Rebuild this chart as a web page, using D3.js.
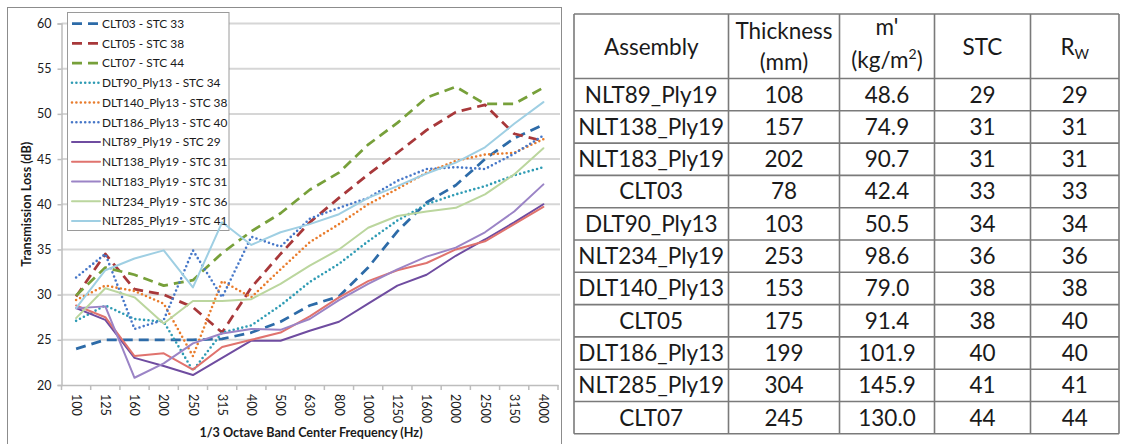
<!DOCTYPE html>
<html>
<head>
<meta charset="utf-8">
<script src="https://cdn.jsdelivr.net/npm/d3@7"></script>
<style>
  html, body { margin: 0; padding: 0; background: #fff; }
  svg { display: block; }
  text { font-family: Lato, "Open Sans", "DejaVu Sans", sans-serif; fill: #1a1a1a; }
</style>
</head>
<body>
<svg id="chart" width="1123" height="444"></svg>
<script>
// ---------------- DATA ----------------
const categories = ["100","125","160","200","250","315","400","500","630","800","1000","1250","1600","2000","2500","3150","4000"];
const yTicks = [20, 25, 30, 35, 40, 45, 50, 55, 60];

const seriesNames = [
  "CLT03 - STC 33", "CLT05 - STC 38", "CLT07 - STC 44",
  "DLT90_Ply13 - STC 34", "DLT140_Ply13 - STC 38", "DLT186_Ply13 - STC 40",
  "NLT89_Ply19 - STC 29", "NLT138_Ply19 - STC 31", "NLT183_Ply19 - STC 31",
  "NLT234_Ply19 - STC 36", "NLT285_Ply19 - STC 41"
];

const clt03  = [24.0, 25.0, 25.0, 25.0, 25.0, 25.1, 25.8, 27.0, 28.8, 29.8, 33.0, 37.0, 40.2, 42.1, 45.0, 47.3, 48.8];
const clt05  = [29.8, 34.5, 30.6, 30.0, 28.6, 25.8, 30.8, 34.5, 38.0, 40.7, 43.3, 45.7, 48.2, 50.2, 51.0, 47.8, 47.0];
const clt07  = [29.9, 33.0, 32.2, 31.0, 31.6, 34.6, 37.0, 39.0, 41.6, 43.5, 46.6, 49.0, 51.8, 53.0, 51.1, 51.1, 52.9];
const dlt90  = [27.1, 28.8, 27.3, 27.0, 21.6, 25.8, 26.6, 28.8, 31.4, 33.4, 35.9, 38.2, 40.0, 41.1, 42.0, 43.2, 44.1];
const dlt140 = [29.4, 31.0, 30.4, 29.0, 23.2, 31.5, 29.7, 32.8, 35.8, 37.8, 40.0, 41.7, 43.5, 44.8, 45.5, 45.7, 47.2];
const dlt186 = [31.9, 34.5, 26.2, 27.2, 34.9, 29.7, 36.4, 35.3, 38.4, 39.6, 40.7, 42.6, 43.9, 44.1, 43.9, 45.6, 47.6];
const nlt89  = [28.5, 27.2, 23.0, 22.1, 21.1, 23.0, 24.9, 24.9, 26.0, 27.0, 29.0, 31.0, 32.2, 34.3, 36.1, 38.0, 40.0];
const nlt138 = [28.8, 27.5, 23.2, 23.5, 21.7, 24.2, 25.0, 25.8, 27.6, 29.7, 31.5, 32.7, 33.5, 35.0, 35.9, 37.8, 39.7];
const nlt183 = [28.5, 28.7, 20.8, 22.4, 24.6, 25.7, 26.2, 26.1, 27.3, 29.4, 31.2, 32.8, 34.2, 35.2, 36.9, 39.2, 42.2];
const nlt234 = [27.4, 30.7, 29.7, 26.8, 29.3, 29.3, 29.5, 31.2, 33.2, 35.0, 37.4, 38.7, 39.2, 39.6, 41.1, 43.3, 46.2];
const nlt285 = [28.5, 32.7, 34.0, 34.9, 30.8, 38.0, 35.5, 36.9, 37.8, 38.9, 40.7, 42.0, 43.4, 44.6, 46.3, 48.9, 51.3];

const seriesValues = [clt03, clt05, clt07, dlt90, dlt140, dlt186, nlt89, nlt138, nlt183, nlt234, nlt285];

// table
const tableHeaders = ["Assembly", "Thickness", "m'", "STC", "R"];
const assemblies = ["NLT89_Ply19","NLT138_Ply19","NLT183_Ply19","CLT03","DLT90_Ply13","NLT234_Ply19","DLT140_Ply13","CLT05","DLT186_Ply13","NLT285_Ply19","CLT07"];
const thickness  = ["108","157","202","78","103","253","153","175","199","304","245"];
const massArea   = ["48.6","74.9","90.7","42.4","50.5","98.6","79.0","91.4","101.9","145.9","130.0"];
const stc        = ["29","31","31","33","34","36","38","38","40","41","44"];
const rw         = ["29","31","31","33","34","36","38","40","40","41","44"];

// ---------------- STYLES ----------------
const styles = [
  {color:"#2D6BA8", type:"dash"},
  {color:"#A8383A", type:"dash"},
  {color:"#77A03A", type:"dash"},
  {color:"#2E9BB4", type:"dot"},
  {color:"#E97C2C", type:"dot"},
  {color:"#4677C8", type:"dot"},
  {color:"#6F4CA0", type:"solid"},
  {color:"#E0736E", type:"solid"},
  {color:"#9B84C6", type:"solid"},
  {color:"#BBD69E", type:"solid"},
  {color:"#9FCFE3", type:"solid"}
];
function applyStyle(sel, st) {
  sel.attr("stroke", st.color).attr("fill", "none").attr("stroke-linejoin", "round");
  if (st.type === "dash") sel.attr("stroke-width", 2.75).attr("stroke-dasharray", "10,6").attr("stroke-linecap", "butt");
  else if (st.type === "dot") sel.attr("stroke-width", 2.6).attr("stroke-dasharray", "0,4.4").attr("stroke-linecap", "round");
  else sel.attr("stroke-width", 2).attr("stroke-linecap", "round");
}

// ---------------- CHART ----------------
const svg = d3.select("#chart");

// chart frame
svg.append("rect").attr("x", 7.5).attr("y", 7.5).attr("width", 554).attr("height", 450)
  .attr("fill", "#fff").attr("stroke", "#8c8c8c").attr("stroke-width", 1);

const plot = {left: 61.5, right: 558, top: 23.5, bottom: 385};
const x = d3.scaleBand().domain(categories).range([plot.left, plot.right]).paddingInner(0).paddingOuter(0);
const xc = c => x(c) + x.bandwidth() / 2;
const y = d3.scaleLinear().domain([20, 60]).range([plot.bottom, plot.top]);

// gridlines
svg.append("g").selectAll("line").data(yTicks.filter(t => t > 20)).join("line")
  .attr("x1", plot.left).attr("x2", plot.right + 2)
  .attr("y1", d => y(d)).attr("y2", d => y(d))
  .attr("stroke", "#d6d6d6").attr("stroke-width", 2);

// y axis
const yAxis = d3.axisLeft(y).tickValues(yTicks).tickSize(4).tickPadding(6).tickFormat(d3.format("d"));
const gy = svg.append("g").attr("transform", `translate(${plot.left},0)`).call(yAxis);
gy.select(".domain").attr("stroke", "#bdbdbd").attr("stroke-width", 1.5);
gy.selectAll(".tick line").attr("stroke", "#bdbdbd").attr("stroke-width", 1.5);
gy.selectAll(".tick text").attr("font-size", 12.5).attr("fill", "#262626")
  .style("font-family", "Lato, sans-serif");

// x axis
const xAxis = d3.axisBottom(x).tickSize(0).tickPadding(0);
const gx = svg.append("g").attr("transform", `translate(0,${plot.bottom})`).call(xAxis);
gx.select(".domain").attr("stroke", "#bdbdbd").attr("stroke-width", 1.5);
gx.selectAll(".tick text")
  .attr("transform", "translate(0,9) rotate(90)")
  .attr("text-anchor", "start").attr("dy", "0.35em").attr("x", 0).attr("y", 0)
  .attr("font-size", 12.5).attr("fill", "#262626").style("font-family", "Lato, sans-serif");
// tick marks at category boundaries
svg.append("g").selectAll("line").data(categories.concat(["end"])).join("line")
  .attr("x1", (d, i) => plot.left + i * x.bandwidth()).attr("x2", (d, i) => plot.left + i * x.bandwidth())
  .attr("y1", plot.bottom).attr("y2", plot.bottom + 5)
  .attr("stroke", "#bdbdbd").attr("stroke-width", 1.5);

// axis titles
svg.append("text").attr("x", 311).attr("y", 437).attr("text-anchor", "middle")
  .attr("font-size", 12.6).attr("font-weight", "bold").attr("fill", "#262626")
  .text("1/3 Octave Band Center Frequency (Hz)");
svg.append("text").attr("transform", `translate(31,${(plot.top + plot.bottom) / 2}) rotate(-90)`)
  .attr("text-anchor", "middle").attr("font-size", 12.6).attr("font-weight", "bold").attr("fill", "#262626")
  .text("Transmission Loss (dB)");

// legend background (lines pass over it, as in the reference)
const lg = svg.append("g");
lg.append("rect").attr("x", 67.5).attr("y", 12.5).attr("width", 161.5).attr("height", 218)
  .attr("fill", "#fff").attr("stroke", "#9a9a9a").attr("stroke-width", 1);

// lines
const line = d3.line().x((d, i) => xc(categories[i])).y(d => y(d));
const gLines = svg.append("g");
seriesValues.forEach((vals, i) => {
  gLines.append("path").datum(vals).attr("d", line).call(applyStyle, styles[i]);
});

// legend entries
const le = svg.append("g");
seriesNames.forEach((name, i) => {
  const yy = 23.5 + i * 19.75;
  le.append("line").attr("x1", 72).attr("x2", 100).attr("y1", yy).attr("y2", yy).call(applyStyle, styles[i]);
  le.append("text").attr("x", 102).attr("y", yy).attr("dy", "0.36em")
    .attr("font-size", 11.9).attr("fill", "#262626").text(name);
});

// ---------------- TABLE ----------------
const colX = [574, 728.5, 839.5, 934.5, 1030.5, 1119];
const headTop = 14, headBottom = 78.5, rowH = 32.3;
const tg = svg.append("g");
const nRows = assemblies.length;
const tableBottom = headBottom + nRows * rowH;

// borders
const hLines = [headTop, headBottom].concat(d3.range(1, nRows + 1).map(i => headBottom + i * rowH));
tg.selectAll("line.h").data(hLines).join("line").attr("class", "h")
  .attr("x1", colX[0]).attr("x2", colX[colX.length - 1]).attr("y1", d => d).attr("y2", d => d)
  .attr("stroke", "#7a7a7a").attr("stroke-width", 1.6);
tg.selectAll("line.v").data(colX).join("line").attr("class", "v")
  .attr("x1", d => d).attr("x2", d => d).attr("y1", headTop).attr("y2", tableBottom)
  .attr("stroke", "#7a7a7a").attr("stroke-width", 1.6);

const colC = d3.range(5).map(i => (colX[i] + colX[i + 1]) / 2);
const fs = 22.5;
function cell(xp, yp, txt) {
  return tg.append("text").attr("x", xp).attr("y", yp).attr("text-anchor", "middle")
    .attr("font-size", fs).attr("fill", "#111").text(txt);
}
// headers
cell(colC[0], 55, tableHeaders[0]);
cell(colC[1], 39, tableHeaders[1]);
cell(colC[1], 70, "(mm)");
cell(colC[2], 35, tableHeaders[2]);
const kg = cell(colC[2], 68, "(kg/m");
kg.append("tspan").attr("font-size", 14).attr("dy", -9).text("2");
kg.append("tspan").attr("dy", 9).text(")");
cell(colC[3], 55, tableHeaders[3]);
const rwt = cell(colC[4], 55, tableHeaders[4]);
rwt.append("tspan").attr("font-size", 14).attr("dy", 4).text("W");

// rows
const cols = [assemblies, thickness, massArea, stc, rw];
assemblies.forEach((a, r) => {
  const base = headBottom + r * rowH + 24;
  cols.forEach((col, c) => cell(colC[c], base, col[r]));
});
</script>
</body>
</html>
